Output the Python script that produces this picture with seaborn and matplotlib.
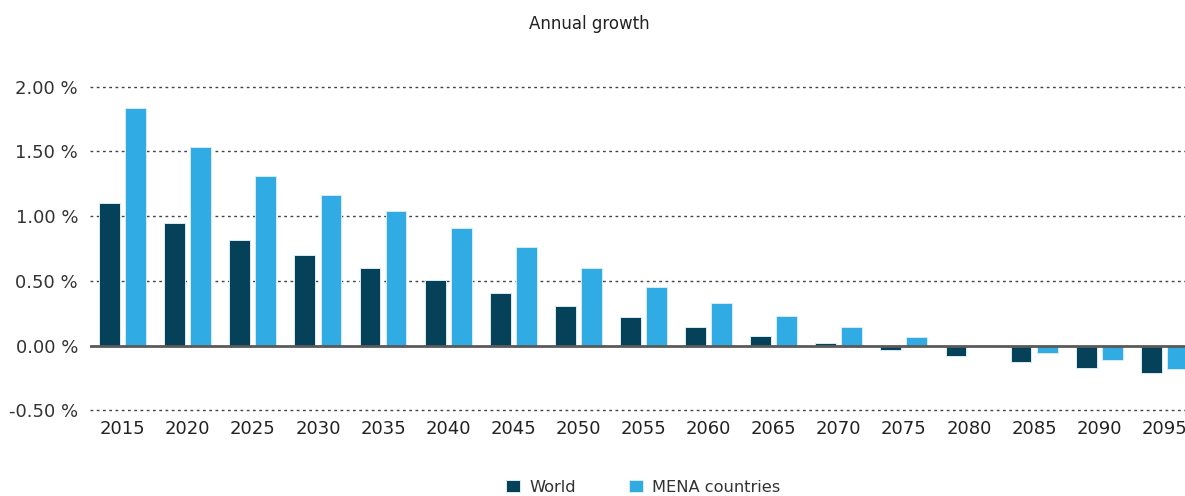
import matplotlib
matplotlib.use("Agg")
import matplotlib.pyplot as plt
import matplotlib.ticker as mticker
import seaborn as sns
import pandas as pd

years = ["2015", "2020", "2025", "2030", "2035", "2040", "2045", "2050", "2055",
         "2060", "2065", "2070", "2075", "2080", "2085", "2090", "2095"]
world = [1.10, 0.947, 0.816, 0.70, 0.60, 0.504, 0.404, 0.31, 0.22,
         0.147, 0.077, 0.02, -0.031, -0.083, -0.127, -0.17, -0.209]
mena = [1.833, 1.532, 1.31, 1.161, 1.04, 0.908, 0.76, 0.60, 0.453,
        0.332, 0.232, 0.144, 0.07, 0.004, -0.057, -0.114, -0.178]
series_names = ["World", "MENA countries"]
colors = ["#05425A", "#31ABE3"]
y_ticks = [-0.5, 0.0, 0.5, 1.0, 1.5, 2.0]

df = pd.DataFrame({
    "year": years * 2,
    "value": world + mena,
    "series": [series_names[0]] * len(years) + [series_names[1]] * len(years),
})

sns.set_theme(style="white")
plt.rcParams["font.family"] = ["DejaVu Sans"]

fig = plt.figure(figsize=(11.85, 4.96), dpi=100)
ax = fig.add_axes([0.0760, 0.1724, 0.934, 0.6528])

sns.barplot(data=df, x="year", y="value", hue="series", order=years,
            hue_order=series_names, palette=colors, saturation=1, width=0.8, gap=0.2,
            edgecolor="#d8ecf5", linewidth=0.7, ax=ax, legend=True)

ax.set_ylim(-0.5, 2.0)
ax.set_xlim(-0.5, len(years) - 0.5)
ax.set_yticks(y_ticks)
ax.yaxis.set_major_formatter(mticker.FuncFormatter(lambda v, p: f"{v:.2f} %"))
for t in y_ticks:
    if t != 0:
        ax.axhline(t, color="#444444", lw=1.0, ls=(0, (2, 2.5)), zorder=0, clip_on=False)
ax.axhline(0, color="#5a5a5a", lw=2.0, zorder=3)

for s in ax.spines.values():
    s.set_visible(False)
ax.set_xlabel("")
ax.set_ylabel("")
ax.tick_params(axis="both", length=0, labelsize=13, colors="#222222")
ax.tick_params(axis="x", pad=7)
ax.tick_params(axis="y", pad=8.6)
for lbl in ax.get_yticklabels():
    lbl.set_color("#333333")

fig.text(0.497, 0.952, "Annual growth", ha="center", va="center", fontsize=12, color="#222222")

handles, labels = ax.get_legend_handles_labels()
ax.get_legend().remove()
fig.legend(handles, labels, loc="center", bbox_to_anchor=(0.543, 0.018), ncol=2,
           frameon=False, fontsize=11.7, handlelength=0.85, handleheight=0.85,
           columnspacing=3.3, handletextpad=0.55, labelcolor="#333333")

fig.savefig("out.png", dpi=100)
